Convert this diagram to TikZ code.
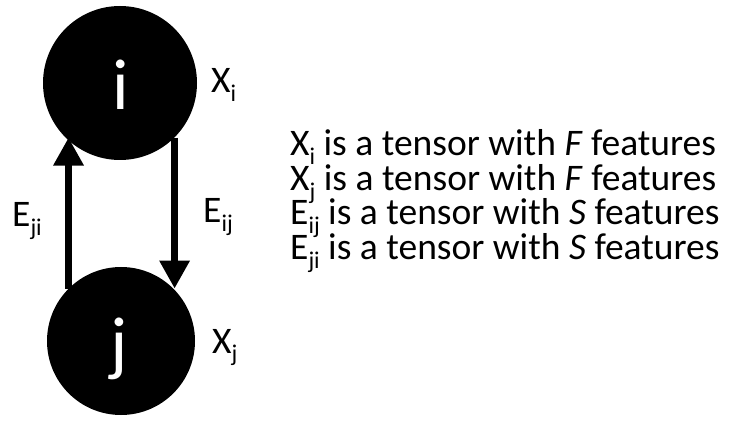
\documentclass[tikz,border=0pt]{standalone}
\usepackage{fontspec}
\setmainfont{Carlito}
\usetikzlibrary{arrows.meta}
\newcommand\sbs[1]{\raisebox{-9pt}{\fontsize{24}{24}\selectfont #1}}
\tikzset{
  vert/.style={circle, fill=black, inner sep=0pt},
  biglab/.style={text=white, inner sep=0pt, anchor=base, font=\fontsize{72}{72}\selectfont},
  lab/.style={inner sep=0pt, anchor=base west, font=\fontsize{37.5}{37.5}\selectfont},
  edge/.style={line width=6.5pt, -{Triangle[width=29pt,length=28pt]}}
}
\begin{document}
\begin{tikzpicture}[x=1pt,y=-1pt]
\useasboundingbox (0,0) rectangle (745,422);
\node[vert, minimum size=154pt] (i) at (120,83) {};
\node[vert, minimum size=148pt] (j) at (121,341) {};
\node[biglab] (il) at (121,110) {i};
\node[biglab] (jl) at (119,367) {j};
\draw[edge] (j.north west) -- (j.north west |- i.south west);
\draw[edge] (i.south east) -- (i.south east |- j.north east);
\node[lab] (xi) at (211,93) {X\sbs{i}};
\node[lab] (xj) at (212,353) {X\sbs{j}};
\node[lab] (eji) at (12,227) {E\sbs{ji}};
\node[lab] (eij) at (203,223) {E\sbs{ij}};
\node[lab] (t1) at (290,156) {X\sbs{i} is a tensor with \textit{F} features};
\node[lab] (t2) at (290,190.5) {X\sbs{j} is a tensor with \textit{F} features};
\node[lab] (t3) at (290,225) {E\sbs{ij} is a tensor with \textit{S} features};
\node[lab] (t4) at (290,259.5) {E\sbs{ji} is a tensor with \textit{S} features};
\end{tikzpicture}
\end{document}
